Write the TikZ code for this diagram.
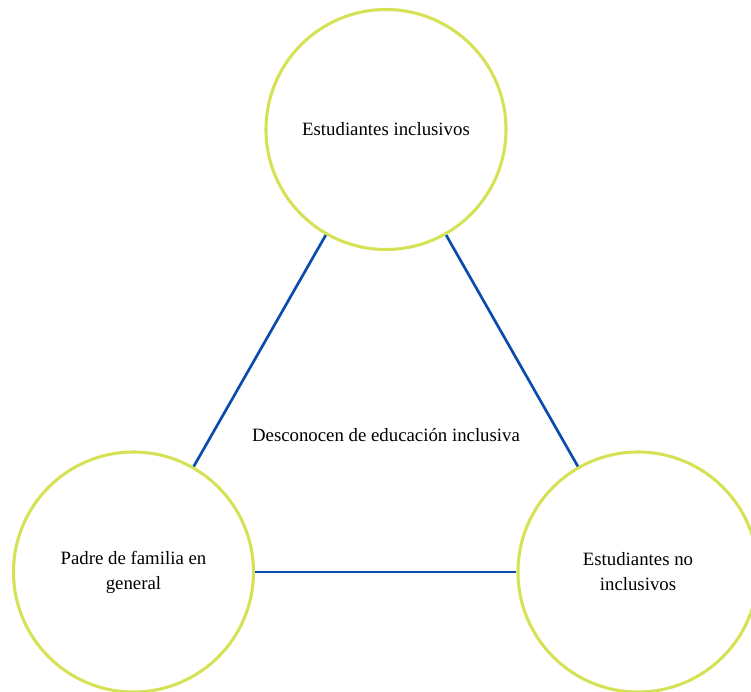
\documentclass[tikz,border=0pt]{standalone}
\usepackage{fontspec}
\setmainfont{Liberation Serif}
\definecolor{ringcolor}{RGB}{214,226,86}
\definecolor{linkcolor}{RGB}{8,76,172}
\begin{document}
\begin{tikzpicture}[x=0.75pt,y=-0.75pt,
  group/.style={circle, draw=ringcolor, line width=2.3pt, fill=white,
    minimum size=180pt, inner sep=0pt, align=center,
    font=\fontsize{14.1}{18.8}\selectfont},
  link/.style={draw=linkcolor, line width=2pt},
  caption/.style={font=\fontsize{14.1}{18.8}\selectfont}]
  \useasboundingbox (0,0) rectangle (751,692);
  \node[group] (top) at (386,129.5) {Estudiantes inclusivos};
  \node[group] (left) at (133.5,572) {Padre de familia en\\general};
  \node[group] (right) at (638,572) {Estudiantes no\\inclusivos};
  \node[caption] (mid) at (386,435) {Desconocen de educación inclusiva};
  \draw[link] (top) -- (left);
  \draw[link] (top) -- (right);
  \draw[link] (left) -- (right);
\end{tikzpicture}
\end{document}
